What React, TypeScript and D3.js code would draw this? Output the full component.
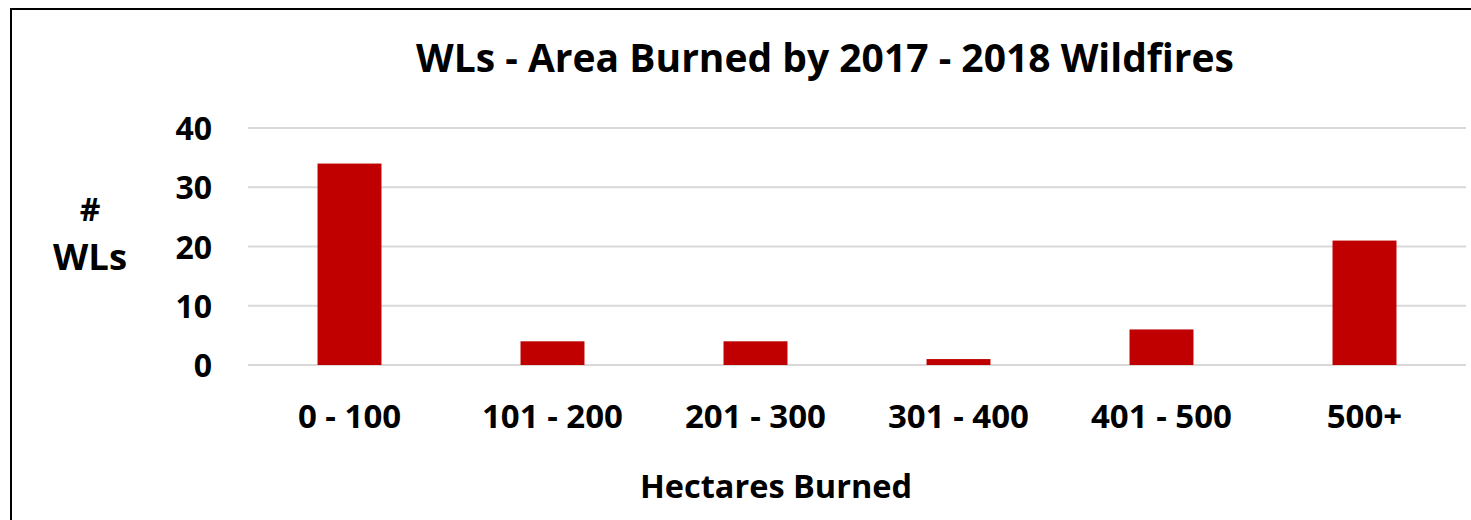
import React, { useEffect, useRef } from "react";
import * as d3 from "d3";

const categories = ["0 - 100", "101 - 200", "201 - 300", "301 - 400", "401 - 500", "500+"];
const wlCounts = [34, 4, 4, 1, 6, 21];
const yTicks = [0, 10, 20, 30, 40];

const W = 1471;
const H = 520;
const FONT = "'Open Sans', Lato, sans-serif";

export default function App() {
  const ref = useRef<SVGSVGElement>(null);

  useEffect(() => {
    const svg = d3.select(ref.current);
    svg.selectAll("*").remove();

    const plot = { left: 248, right: 1466, top: 128, bottom: 365 };

    // chart frame
    svg
      .append("rect")
      .attr("x", 11)
      .attr("y", 9)
      .attr("width", W)
      .attr("height", H)
      .attr("fill", "white")
      .attr("stroke", "#000")
      .attr("stroke-width", 2);

    const x = d3
      .scaleBand()
      .domain(categories)
      .range([plot.left, plot.right])
      .paddingInner(0.685)
      .paddingOuter(0.3425);

    const y = d3.scaleLinear().domain([0, 40]).range([plot.bottom, plot.top]);

    // gridlines
    svg
      .append("g")
      .selectAll("line")
      .data(yTicks)
      .enter()
      .append("line")
      .attr("x1", plot.left)
      .attr("x2", plot.right)
      .attr("y1", (d) => y(d))
      .attr("y2", (d) => y(d))
      .attr("stroke", "#d9d9d9")
      .attr("stroke-width", 2);

    // y tick labels
    svg
      .append("g")
      .selectAll("text")
      .data(yTicks)
      .enter()
      .append("text")
      .attr("x", 212)
      .attr("y", (d) => y(d) + 12)
      .attr("text-anchor", "end")
      .attr("font-family", FONT)
      .attr("font-weight", "bold")
      .attr("font-size", 32)
      .text((d) => d);

    // bars
    svg
      .append("g")
      .selectAll("rect")
      .data(wlCounts)
      .enter()
      .append("rect")
      .attr("x", (d, i) => x(categories[i]))
      .attr("y", (d) => y(d))
      .attr("width", x.bandwidth())
      .attr("height", (d) => y(0) - y(d))
      .attr("fill", "#c00000");

    // x labels
    svg
      .append("g")
      .selectAll("text")
      .data(categories)
      .enter()
      .append("text")
      .attr("x", (d) => x(d) + x.bandwidth() / 2)
      .attr("y", 428)
      .attr("text-anchor", "middle")
      .attr("font-family", FONT)
      .attr("font-weight", "bold")
      .attr("font-size", 33)
      .text((d) => d);

    // title
    svg
      .append("text")
      .attr("x", 825)
      .attr("y", 72)
      .attr("text-anchor", "middle")
      .attr("font-family", FONT)
      .attr("font-weight", "bold")
      .attr("font-size", 39)
      .text("WLs - Area Burned by 2017 - 2018 Wildfires");

    // axis titles
    svg
      .append("text")
      .attr("x", 776)
      .attr("y", 498)
      .attr("text-anchor", "middle")
      .attr("font-family", FONT)
      .attr("font-weight", "bold")
      .attr("font-size", 32.5)
      .text("Hectares Burned");

    const yTitle = svg
      .append("text")
      .attr("text-anchor", "middle")
      .attr("font-family", FONT)
      .attr("font-weight", "bold");
    yTitle.append("tspan").attr("x", 90).attr("y", 221).attr("font-size", 32).text("#");
    yTitle.append("tspan").attr("x", 90).attr("y", 270).attr("font-size", 36.5).text("WLs");
  }, []);

  return (
    <svg
      ref={ref}
      width={W}
      height={H}
      style={{ position: "absolute", left: 0, top: 0, background: "white" }}
    />
  );
}
